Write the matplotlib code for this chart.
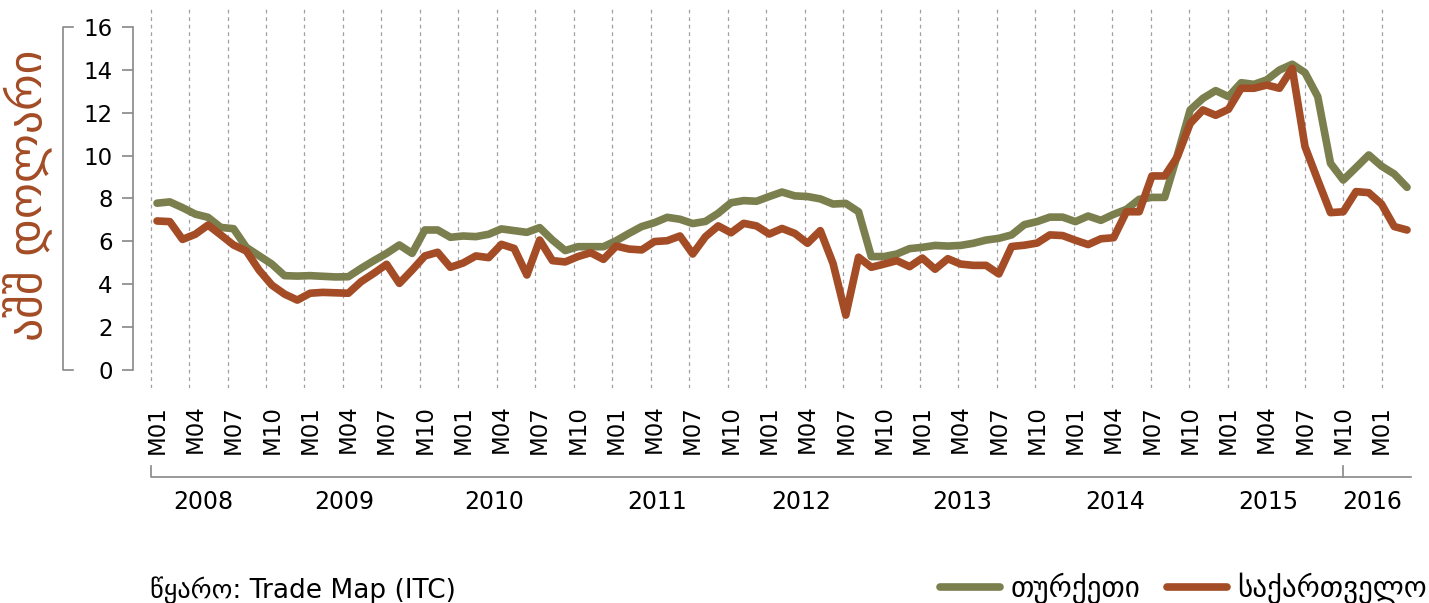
import numpy as np
import matplotlib as mpl
mpl.use('Agg')
import matplotlib.pyplot as plt
from matplotlib import transforms
from matplotlib.lines import Line2D

plt.rcParams['font.family'] = ['DejaVu Sans']

# monthly prices, 2008 M01 .. 2016 M03
turkey = [7.78, 7.84, 7.57, 7.27, 7.12, 6.65, 6.59, 5.72, 5.33, 4.94, 4.40, 4.38,
          4.40, 4.37, 4.34, 4.35, 4.74, 5.10, 5.44, 5.83, 5.44, 6.53, 6.53, 6.19,
          6.25, 6.22, 6.33, 6.58, 6.50, 6.42, 6.64, 6.06, 5.57, 5.75, 5.75, 5.75,
          6.03, 6.37, 6.69, 6.87, 7.12, 7.03, 6.83, 6.93, 7.31, 7.80, 7.90, 7.87,
          8.09, 8.30, 8.12, 8.09, 7.98, 7.74, 7.77, 7.38, 5.29, 5.29, 5.41, 5.66,
          5.72, 5.81, 5.78, 5.81, 5.91, 6.06, 6.14, 6.30, 6.78, 6.92, 7.13, 7.13,
          6.92, 7.18, 6.98, 7.26, 7.49, 7.96, 8.05, 8.05, 10.03, 12.13, 12.67, 13.03,
          12.75, 13.40, 13.32, 13.53, 13.99, 14.26, 13.87, 12.75, 9.64, 8.86, 9.44, 10.03,
          9.51, 9.14, 8.52]
georgia = [6.95, 6.92, 6.09, 6.33, 6.76, 6.30, 5.83, 5.55, 4.66, 3.96, 3.54, 3.26,
           3.58, 3.62, 3.60, 3.58, 4.12, 4.51, 4.93, 4.04, 4.66, 5.32, 5.49, 4.79,
           4.99, 5.32, 5.24, 5.86, 5.67, 4.43, 6.06, 5.10, 5.04, 5.29, 5.47, 5.16,
           5.78, 5.64, 5.60, 5.99, 6.03, 6.25, 5.41, 6.22, 6.72, 6.40, 6.84, 6.72,
           6.34, 6.60, 6.37, 5.91, 6.50, 4.97, 2.56, 5.26, 4.79, 4.94, 5.10, 4.82,
           5.22, 4.70, 5.19, 4.94, 4.88, 4.88, 4.48, 5.76, 5.82, 5.92, 6.30, 6.27,
           6.05, 5.85, 6.12, 6.17, 7.38, 7.38, 9.05, 9.05, 9.95, 11.50, 12.13, 11.88,
           12.16, 13.14, 13.14, 13.29, 13.14, 14.07, 10.42, 8.86, 7.34, 7.38, 8.32, 8.27,
           7.74, 6.69, 6.53]
month_labels = ['M01', 'M04', 'M07', 'M10']
years = ['2008', '2009', '2010', '2011', '2012', '2013', '2014', '2015', '2016']
year_pos = [3.6, 14.7, 26.4, 39.2, 50.5, 63.1, 75.1, 87.1, 95.3]
series_names = ['თურქეთი', 'საქართველო']

green = '#7b7f4e'
red = '#a34c26'
grey = '#888888'

W, H = 1429, 603
fig = plt.figure(figsize=(W / 100, H / 100), dpi=100)
ax = fig.add_axes([150 / W, (H - 388) / H, 1263.4 / W, 381 / H])

x = np.arange(len(turkey))
ticks = x[::3]

# dashed vertical grid
for g in np.linspace(-0.5, 96, 33):
    ax.axvline(g, color='#a0a0a0', lw=0.9, ls=(0, (3, 3)), zorder=0)

ax.plot(x, turkey, color=green, lw=5.5, solid_capstyle='round',
        solid_joinstyle='round', label=series_names[0])
ax.plot(x, georgia, color=red, lw=5.5, solid_capstyle='round',
        solid_joinstyle='round', label=series_names[1])

ax.set_xlim(-0.55, 98.5)
ax.set_ylim(-0.84, 16.93)

for s in ['top', 'right', 'bottom']:
    ax.spines[s].set_visible(False)
ax.spines['left'].set_position(('outward', 12))
ax.spines['left'].set_bounds(0, 16)
ax.spines['left'].set_color(grey)
ax.spines['left'].set_linewidth(1.2)

ax.set_yticks(range(0, 17, 2))
ax.tick_params(axis='y', length=8, width=1.2, color=grey, pad=7, labelsize=16.5)
ax.set_xticks(ticks)
ax.set_xticklabels([month_labels[i % 4] for i in range(len(ticks))],
                   rotation=90, fontsize=16.5)
ax.tick_params(axis='x', length=0, pad=12)

# category axis line with year groups
tr = transforms.blended_transform_factory(ax.transData, fig.transFigure)
yline = (H - 477) / H
ytick = (H - 466) / H
fig.add_artist(Line2D([-0.5, -0.5, 98.35], [ytick, yline, yline], transform=tr,
                      color=grey, lw=1.2))
sep = np.linspace(-0.5, 96, 33)[31]
fig.add_artist(Line2D([sep, sep], [ytick, yline], transform=tr, color=grey, lw=1.2))
for yr, p in zip(years, year_pos):
    fig.text(p, (H - 502) / H, yr, transform=tr, ha='center', va='center',
             fontsize=17)

# bracket and unit label on the left
tr2 = transforms.blended_transform_factory(fig.transFigure, ax.transData)
fig.add_artist(Line2D([73 / W, 63 / W, 63 / W, 73 / W], [0, 0, 16, 16],
                      transform=tr2, color=grey, lw=1.2))
fig.text(28 / W, (H - 195) / H, 'აშშ დოლარი', rotation=90, color=red,
         fontsize=33, ha='center', va='center')

fig.text(150 / W, (H - 590) / H, 'წყარო: Trade Map (ITC)', fontsize=19,
         va='center')

handles = [Line2D([], [], color=green, lw=5.5, solid_capstyle='round'),
           Line2D([], [], color=red, lw=5.5, solid_capstyle='round')]
fig.legend(handles, series_names, loc='center left',
           bbox_to_anchor=(940 / W, (H - 588) / H), ncol=2, frameon=False,
           handlelength=2.07, handletextpad=0.35, columnspacing=0.9,
           borderpad=0, borderaxespad=0, fontsize=21)

fig.savefig('out.png', dpi=100)
